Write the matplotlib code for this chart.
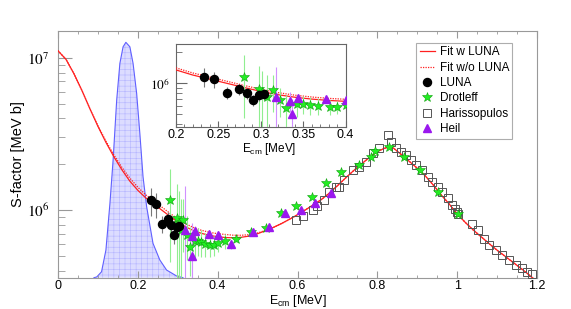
import numpy as np
import matplotlib
matplotlib.use('Agg')
import matplotlib.pyplot as plt
from matplotlib.ticker import FixedLocator, LogLocator, NullFormatter, FuncFormatter, MultipleLocator
from matplotlib.lines import Line2D

plt.rcParams['font.family'] = ['Liberation Sans', 'DejaVu Sans']
plt.rcParams['mathtext.fontset'] = 'custom'
plt.rcParams['mathtext.rm'] = 'Liberation Sans'
plt.rcParams['mathtext.it'] = 'Liberation Sans:italic'
plt.rcParams['hatch.linewidth'] = 0.4

# ---------------- data ----------------
# fits: energy [MeV] and log10(S-factor [MeV b])
fit_E = [0.00, 0.02, 0.04, 0.06, 0.08, 0.10, 0.12, 0.14, 0.16, 0.18,
         0.20, 0.22, 0.24, 0.26, 0.28, 0.30, 0.32, 0.34, 0.36, 0.38,
         0.40, 0.42, 0.44, 0.46, 0.48, 0.50, 0.52, 0.54, 0.56, 0.58,
         0.60, 0.62, 0.64, 0.66, 0.68, 0.70, 0.72, 0.74, 0.76, 0.78,
         0.80, 0.82, 0.83, 0.84, 0.86, 0.88, 0.90, 0.92, 0.94, 0.96,
         0.98, 1.00, 1.02, 1.04, 1.06, 1.08, 1.10, 1.12, 1.14, 1.16,
         1.18, 1.20]
fit_w_luna = [7.046, 6.990, 6.895, 6.785, 6.665, 6.550, 6.445, 6.350, 6.265, 6.190,
              6.130, 6.080, 6.040, 6.000, 5.960, 5.922, 5.890, 5.865, 5.847, 5.834,
              5.825, 5.820, 5.818, 5.822, 5.830, 5.845, 5.865, 5.887, 5.912, 5.940,
              5.970, 6.002, 6.035, 6.070, 6.112, 6.160, 6.210, 6.258, 6.303, 6.345,
              6.385, 6.408, 6.413, 6.408, 6.365, 6.320, 6.275, 6.225, 6.165, 6.100,
              6.040, 5.975, 5.920, 5.870, 5.825, 5.780, 5.737, 5.697, 5.657, 5.617,
              5.575, 5.530]
fit_wo_luna = [7.046, 6.990, 6.895, 6.785, 6.665, 6.554, 6.453, 6.362, 6.281, 6.210,
               6.150, 6.100, 6.060, 6.020, 5.980, 5.942, 5.910, 5.885, 5.867, 5.854,
               5.845, 5.840, 5.835, 5.835, 5.839, 5.850, 5.867, 5.887, 5.912, 5.940,
               5.970, 6.002, 6.035, 6.070, 6.112, 6.160, 6.210, 6.258, 6.303, 6.345,
               6.385, 6.408, 6.413, 6.408, 6.365, 6.320, 6.275, 6.225, 6.165, 6.100,
               6.040, 5.975, 5.920, 5.870, 5.825, 5.780, 5.737, 5.697, 5.657, 5.617,
               5.575, 5.530]

luna_E = [0.233, 0.245, 0.260, 0.275, 0.2835, 0.291, 0.298, 0.304]
luna_logS = [6.064, 6.039, 5.909, 5.942, 5.903, 5.838, 5.886, 5.893]
luna_err = [2.4e5, 2.0e5, 1.0e5, 1.0e5, 1.0e5, 0.9e5, 0.9e5, 0.9e5]

drot_E = [0.280, 0.298, 0.302, 0.307, 0.314, 0.3225, 0.330, 0.3425, 0.350, 0.358,
          0.367, 0.381, 0.390, 0.400, 0.4175, 0.447, 0.484, 0.522, 0.559, 0.597,
          0.637, 0.672, 0.709, 0.755, 0.783, 0.793, 0.830, 0.867, 0.906, 0.952, 1.002]
drot_logS = [6.064, 5.945, 5.918, 5.870, 5.935, 5.838, 5.757, 5.796, 5.799, 5.789,
             5.780, 5.770, 5.770, 5.785, 5.795, 5.812, 5.857, 5.880, 5.980, 6.024,
             6.088, 6.175, 6.248, 6.298, 6.350, 6.388, 6.415, 6.346, 6.263, 6.120, 5.975]
drot_err = [7e5, 6e5, 5e5, 4.5e5, 3.3e5, 2.2e5, 2e5, 1.5e5, 1.3e5, 1.2e5,
            1.1e5, 1.0e5, 0.9e5, 0.8e5, 0.7e5, 0.35e5, 0.3e5, 0.3e5, 0.3e5, 0.3e5,
            0.3e5, 0.3e5, 0.3e5, 0.3e5, 0.3e5, 0.3e5, 0.3e5, 0.3e5, 0.3e5, 0.3e5, 0.3e5]

har_E = [0.597, 0.613, 0.638, 0.650, 0.6675, 0.680, 0.697, 0.705, 0.7175, 0.738,
         0.755, 0.772, 0.788, 0.805, 0.826, 0.834, 0.847, 0.859, 0.872, 0.884,
         0.897, 0.913, 0.926, 0.938, 0.951, 0.963, 0.976, 0.988, 0.995, 1.000,
         1.003, 1.038, 1.051, 1.0675, 1.080, 1.097, 1.113, 1.130, 1.147, 1.163,
         1.176, 1.188]
har_logS = [5.934, 5.960, 6.000, 6.030, 6.066, 6.120, 6.150, 6.153, 6.197, 6.263,
            6.285, 6.318, 6.373, 6.410, 6.490, 6.450, 6.406, 6.384, 6.360, 6.330,
            6.296, 6.263, 6.220, 6.187, 6.153, 6.120, 6.077, 6.033, 6.010, 5.990,
            5.975, 5.910, 5.868, 5.810, 5.770, 5.737, 5.704, 5.670, 5.638, 5.618,
            5.594, 5.579]

heil_E = [0.318, 0.3345, 0.3365, 0.3435, 0.377, 0.400, 0.4325, 0.488, 0.528, 0.5675,
          0.609, 0.645, 0.684]
heil_logS = [5.870, 5.828, 5.702, 5.860, 5.845, 5.836, 5.776, 5.857, 5.890, 5.980,
             6.000, 6.044, 6.110]
heil_err = [7e5, 1.5e5, 2e5, 6e4, 4e4, 4e4, 4e4, 3e4, 3e4, 3e4, 3e4, 3e4, 3e4]

# Gamow window (relative height, arbitrary units)
gam_E = [0.090, 0.097, 0.109, 0.120, 0.130, 0.138, 0.147, 0.155, 0.163, 0.170,
         0.180, 0.188, 0.197, 0.205, 0.213, 0.222, 0.238, 0.255, 0.272, 0.297, 0.313]
gam_h = [0.0, 0.003, 0.024, 0.112, 0.30, 0.477, 0.72, 0.869, 0.936, 0.954,
         0.936, 0.869, 0.747, 0.585, 0.409, 0.288, 0.139, 0.072, 0.031, 0.007, 0.0]

S = lambda v: 10 ** np.asarray(v)

RED = '#ff2020'
GREEN = '#22ee22'
GREEN_D = '#10a010'
VIOLET = '#9a18ee'
FRAME = '#999999'

MS_STAR, MS_SQ, MS_TRI, MS_CIR = 7, 6, 6, 5.8

fig = plt.figure(figsize=(5.71, 3.09), dpi=100)
ax = fig.add_axes([0.1016, 0.1013, 0.8389, 0.7984])
axg = ax.twinx()
axg.set_zorder(1)
ax.set_zorder(2)
ax.patch.set_visible(False)
axg.set_ylim(0, 1)
axg.axis('off')
axg.fill_between(gam_E, 0, gam_h, facecolor='#dcdcff', edgecolor='#b4b4ff',
                 hatch='+++', linewidth=0)
axg.plot(gam_E, gam_h, color='#6060ff', lw=0.8)


def draw(a):
    a.plot(fit_E, S(fit_w_luna), color=RED, lw=0.9, zorder=3)
    a.plot(fit_E, S(fit_wo_luna), color=RED, lw=0.9, ls=(0, (1, 1)), zorder=3)
    a.errorbar(drot_E, S(drot_logS), yerr=drot_err, fmt='none',
               ecolor='#90ee90', elinewidth=0.8, zorder=4)
    a.errorbar(heil_E, S(heil_logS), yerr=heil_err, fmt='none',
               ecolor='#d090ff', elinewidth=0.8, zorder=4)
    a.errorbar(luna_E, S(luna_logS), yerr=luna_err, fmt='none',
               ecolor='#777777', elinewidth=0.8, zorder=4)
    a.plot(har_E, S(har_logS), ls='none', marker='s', ms=MS_SQ,
           mfc='none', mec='#555555', mew=0.7, zorder=5)
    a.plot(drot_E, S(drot_logS), ls='none', marker='*', ms=MS_STAR,
           mfc=GREEN, mec=GREEN_D, mew=0.4, zorder=6)
    a.plot(heil_E, S(heil_logS), ls='none', marker='^', ms=MS_TRI,
           color=VIOLET, zorder=6)
    a.plot(luna_E, S(luna_logS), ls='none', marker='o', ms=MS_CIR,
           color='black', zorder=7)


draw(ax)
ax.set_yscale('log')
ax.set_xlim(0, 1.2)
ax.set_ylim(3.6e5, 1.5e7)

for sp in ax.spines.values():
    sp.set_color(FRAME)
ax.xaxis.set_major_locator(MultipleLocator(0.2))
ax.xaxis.set_minor_locator(MultipleLocator(0.05))
ax.xaxis.set_major_formatter(FuncFormatter(lambda v, p: '%g' % round(v, 3)))
ax.yaxis.set_major_locator(FixedLocator([1e6, 1e7]))
ax.yaxis.set_major_formatter(FuncFormatter(
    lambda v, p: r'$\mathit{10^{%d}}$' % round(np.log10(v))))
ax.yaxis.set_minor_locator(LogLocator(base=10, subs=np.arange(2, 10)))
ax.yaxis.set_minor_formatter(NullFormatter())
ax.tick_params(axis='x', which='major', direction='in', length=5, color=FRAME,
               labelsize=9, pad=2, top=True)
ax.tick_params(axis='x', which='minor', direction='in', length=2.5, color=FRAME, top=True)
ax.tick_params(axis='y', which='major', direction='in', length=10, color=FRAME,
               labelsize=11, pad=6, right=False)
ax.tick_params(axis='y', which='minor', direction='in', length=5, color=FRAME, right=False)
for t in ax.get_yticklabels():
    t.set_math_fontfamily('stix')

ax.set_xlabel(r'E$_{\mathrm{cm}}$ [MeV]', fontsize=9)
ax.xaxis.set_label_coords(0.5, -0.062)
ax.xaxis.label.set_verticalalignment('top')
ax.set_ylabel('S-factor [MeV b]', fontsize=10.5)
ax.yaxis.set_label_coords(-0.083, 0.5)
ax.yaxis.label.set_verticalalignment('center')

handles = [
    Line2D([], [], color=RED, lw=0.9),
    Line2D([], [], color=RED, lw=0.9, ls=(0, (1, 1))),
    Line2D([], [], ls='none', marker='o', ms=MS_CIR, color='black'),
    Line2D([], [], ls='none', marker='*', ms=MS_STAR, mfc=GREEN, mec=GREEN_D, mew=0.4),
    Line2D([], [], ls='none', marker='s', ms=MS_SQ, mfc='none', mec='#555555', mew=0.7),
    Line2D([], [], ls='none', marker='^', ms=MS_TRI, color=VIOLET),
]
labels = ['Fit w LUNA', 'Fit w/o LUNA', 'LUNA', 'Drotleff', 'Harissopulos', 'Heil']
leg = ax.legend(handles, labels, loc='upper left',
                bbox_to_anchor=(0.7285, 0.56, 0.168, 0.301),
                bbox_transform=fig.transFigure, mode='expand',
                fontsize=8.5, frameon=True, fancybox=False, edgecolor=FRAME,
                handlelength=1.3, handletextpad=0.4, labelspacing=0.28,
                borderpad=0.3, borderaxespad=0)
leg.get_frame().set_linewidth(0.8)

# ---------------- inset ----------------
ai = fig.add_axes([0.3077, 0.590, 0.2977, 0.2676])
ai.set_zorder(3)
draw(ai)
ai.set_yscale('log')
ai.set_xlim(0.2, 0.4)
ai.set_ylim(3.8e5, 2.4e6)
for sp in ai.spines.values():
    sp.set_color('#666666')
ai.xaxis.set_major_locator(MultipleLocator(0.05))
ai.xaxis.set_minor_locator(MultipleLocator(0.01))
ai.xaxis.set_major_formatter(FuncFormatter(lambda v, p: '%g' % round(v, 3)))
ai.yaxis.set_major_locator(FixedLocator([1e6]))
ai.yaxis.set_major_formatter(FuncFormatter(
    lambda v, p: r'$\mathit{10^{%d}}$' % round(np.log10(v))))
ai.yaxis.set_minor_locator(LogLocator(base=10, subs=np.arange(2, 10)))
ai.yaxis.set_minor_formatter(NullFormatter())
ai.tick_params(axis='x', which='major', direction='in', length=4, color='#666666',
               labelsize=9, pad=2)
ai.tick_params(axis='x', which='minor', direction='in', length=2, color='#666666')
ai.tick_params(axis='y', which='major', direction='in', length=8, color='#666666',
               labelsize=9.5, pad=4)
ai.tick_params(axis='y', which='minor', direction='in', length=4, color='#666666')
for t in ai.get_yticklabels():
    t.set_math_fontfamily('stix')
ai.set_xlabel(r'E$_{\mathrm{cm}}$ [MeV]', fontsize=8.5)
ai.xaxis.set_label_coords(0.55, -0.17)
ai.xaxis.label.set_verticalalignment('top')

fig.savefig('out.png', dpi=100)
